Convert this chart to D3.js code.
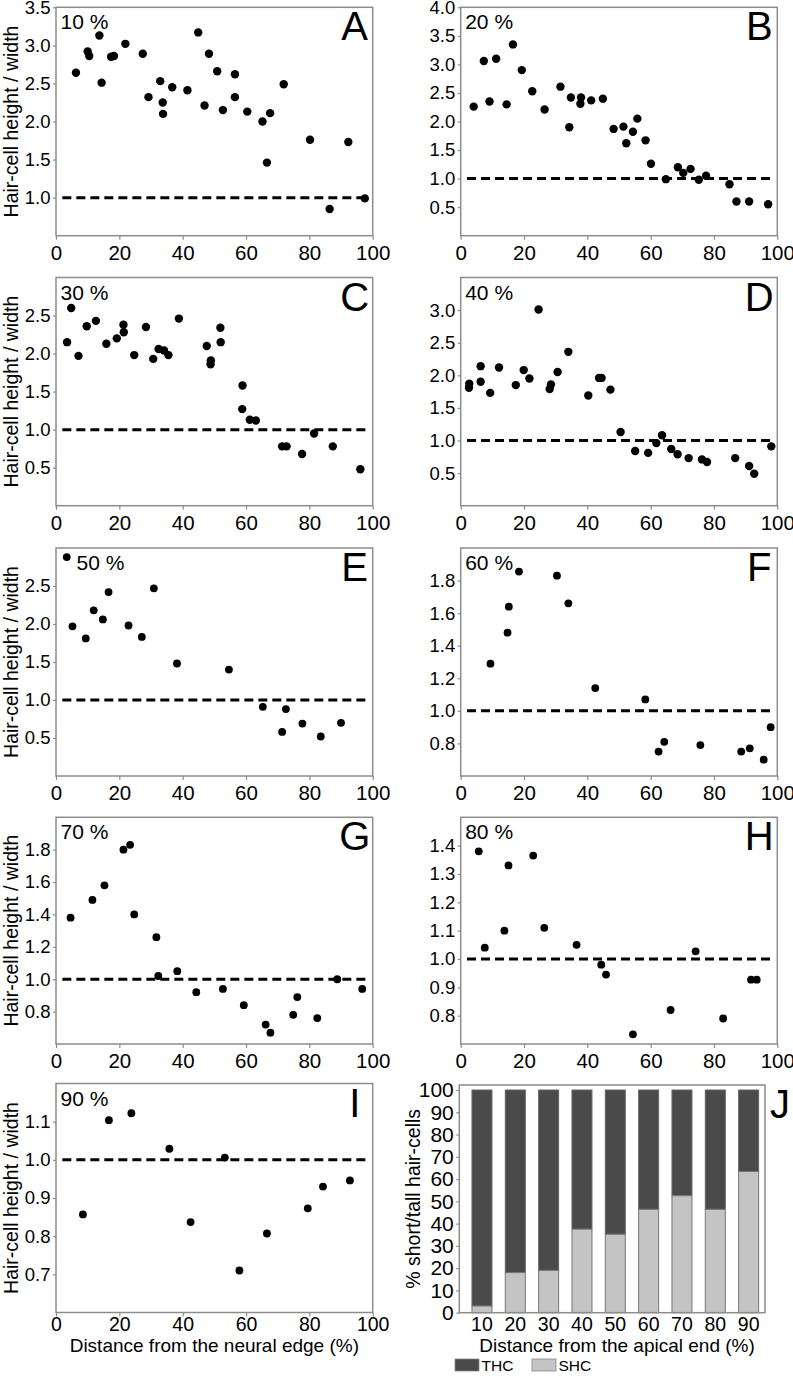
<!DOCTYPE html>
<html><head><meta charset="utf-8">
<script src="https://cdn.jsdelivr.net/npm/d3@7"></script>
<style>body{margin:0;background:#fff} svg{display:block} text{font-family:"Liberation Sans",Arial,sans-serif;fill:#000}</style>
</head><body>
<svg id="c" width="793" height="1379"></svg>
<script>
// ---------------- DATA ----------------
const xTickValues = [0, 20, 40, 60, 80, 100];

const distA  = [6.3,10.0,10.5,13.7,14.4,17.4,18.3,21.9,27.4,29.2,32.9,33.7,33.8,36.7,41.5,44.9,46.9,48.3,50.9,52.7,56.5,56.5,60.4,65.2,66.6,67.6,71.9,80.2,86.4,92.3,97.5];
const ratioA = [2.64,2.92,2.86,3.13,2.51,2.85,2.86,3.02,2.89,2.32,2.53,2.25,2.10,2.45,2.41,3.17,2.21,2.89,2.66,2.15,2.62,2.32,2.13,2.00,1.46,2.11,2.49,1.76,0.85,1.73,0.99];
const yTicksA = [1.0,1.5,2.0,2.5,3.0,3.5];

const distB  = [4.1,7.3,9.1,11.2,14.5,16.5,19.3,22.6,26.5,31.5,34.3,34.8,38.0,37.8,41.2,44.9,48.3,51.4,52.3,54.4,55.8,58.4,60.1,64.8,68.6,70.3,72.6,75.2,77.5,84.9,87.1,91.1,97.1];
const ratioB = [2.26,3.06,2.35,3.10,2.30,3.35,2.90,2.53,2.21,2.61,1.90,2.42,2.42,2.31,2.37,2.40,1.87,1.91,1.62,1.82,2.05,1.67,1.26,0.99,1.20,1.10,1.17,0.98,1.05,0.90,0.60,0.60,0.55];
const yTicksB = [0.5,1.0,1.5,2.0,2.5,3.0,3.5,4.0];

const distC  = [3.5,4.8,7.1,9.7,12.6,15.9,19.2,21.3,21.4,24.7,28.4,30.7,32.4,34.1,35.5,38.8,47.6,48.9,48.8,51.9,52.0,58.9,58.8,61.2,63.1,71.4,72.8,77.7,81.5,87.4,96.1];
const ratioC = [2.15,2.60,1.97,2.36,2.43,2.13,2.20,2.38,2.28,1.98,2.35,1.93,2.06,2.04,1.98,2.46,2.10,1.91,1.86,2.34,2.15,1.58,1.27,1.13,1.12,0.78,0.78,0.68,0.95,0.78,0.48];
const yTicksC = [0.5,1.0,1.5,2.0,2.5];

const distD  = [2.7,2.6,6.3,6.3,9.3,12.1,17.4,19.9,21.7,24.6,28.1,28.5,30.6,34.0,40.3,43.7,44.5,47.3,50.5,55.1,59.2,61.8,63.6,66.5,68.5,72.0,76.2,77.8,86.7,91.1,92.7,98.1];
const ratioD = [1.87,1.81,2.14,1.90,1.73,2.12,1.85,2.08,1.95,3.01,1.79,1.86,2.05,2.36,1.69,1.96,1.96,1.78,1.13,0.84,0.81,0.96,1.08,0.87,0.79,0.73,0.71,0.67,0.73,0.61,0.49,0.91];
const yTicksD = [0.5,1.0,1.5,2.0,2.5,3.0];

const distE  = [3.4,5.2,9.4,11.9,14.8,16.6,22.9,27.1,30.9,38.2,54.6,65.3,71.4,72.6,77.8,83.6,90.0];
const ratioE = [2.88,1.97,1.81,2.18,2.06,2.42,1.98,1.83,2.47,1.48,1.40,0.91,0.58,0.88,0.69,0.52,0.70];
const yTicksE = [0.5,1.0,1.5,2.0,2.5];

const distF  = [9.4,14.8,15.2,18.4,30.4,34.0,42.5,58.3,62.5,64.3,75.7,88.6,91.3,95.7,97.9];
const ratioF = [1.29,1.48,1.64,1.855,1.83,1.66,1.14,1.07,0.75,0.81,0.79,0.75,0.77,0.70,0.90];
const yTicksF = [0.8,1.0,1.2,1.4,1.6,1.8];

const distG  = [4.6,11.5,15.3,21.3,23.4,24.7,31.7,32.3,38.3,44.3,52.7,59.3,66.2,67.7,74.9,76.2,82.5,88.8,96.7];
const ratioG = [1.38,1.49,1.58,1.80,1.83,1.40,1.26,1.02,1.05,0.92,0.94,0.84,0.72,0.67,0.78,0.89,0.76,1.00,0.94];
const yTicksG = [0.8,1.0,1.2,1.4,1.6,1.8];

const distH  = [5.7,7.6,13.8,15.1,22.9,26.4,36.6,44.4,45.9,54.4,66.3,74.2,82.9,91.7,93.5];
const ratioH = [1.38,1.04,1.10,1.33,1.365,1.11,1.05,0.98,0.945,0.734,0.82,1.027,0.79,0.927,0.927];
const yTicksH = [0.8,0.9,1.0,1.1,1.2,1.3,1.4];

const distI  = [8.5,16.7,23.8,35.8,42.5,53.3,57.9,66.6,79.5,84.3,92.8];
const ratioI = [0.857,1.104,1.122,1.029,0.837,1.006,0.71,0.807,0.873,0.93,0.946];
const yTicksI = [0.7,0.8,0.9,1.0,1.1];

const apicalPositions = ["10","20","30","40","50","60","70","80","90"];
const shcPercent = [3,18,19,37.5,35.2,46.4,52.5,46.4,63.4];
const thcPercent = [97,82,81,62.5,64.8,53.6,47.5,53.6,36.6];
const yTicksJ = [0,10,20,30,40,50,60,70,80,90,100];

const panelLabels = ["10 %","20 %","30 %","40 %","50 %","60 %","70 %","80 %","90 %"];
const panelLetters = ["A","B","C","D","E","F","G","H","I","J"];

// ---------------- LAYOUT ----------------
const svg = d3.select("#c");
const colX = [[56,372.7],[460.7,777.3]];
const rowY = [[7.3,235.7],[277.5,505.7],[548,776],[817.3,1044],[1083.5,1312.5]];
const FRAME = "#8c8c8c";

const panels = [
  {x:distA,y:ratioA,dom:[0.5,3.5],ticks:yTicksA},
  {x:distB,y:ratioB,dom:[0,4.0],ticks:yTicksB},
  {x:distC,y:ratioC,dom:[0,3.0],ticks:yTicksC},
  {x:distD,y:ratioD,dom:[0,3.5],ticks:yTicksD},
  {x:distE,y:ratioE,dom:[0,3.0],ticks:yTicksE},
  {x:distF,y:ratioF,dom:[0.6,2.0],ticks:yTicksF},
  {x:distG,y:ratioG,dom:[0.6,2.0],ticks:yTicksG},
  {x:distH,y:ratioH,dom:[0.7,1.5],ticks:yTicksH},
  {x:distI,y:ratioI,dom:[0.6,1.2],ticks:yTicksI}
];

function styleAxis(sel, fs){
  sel.select(".domain").remove();
  sel.selectAll(".tick line").attr("stroke",FRAME).attr("stroke-width",1.2);
  sel.selectAll(".tick text").attr("font-size",fs).attr("fill","#000")
     .attr("font-family","Liberation Sans, Arial, sans-serif");
}

panels.forEach((p,i)=>{
  const col = i%2, row = Math.floor(i/2);
  const [L,R] = colX[col], [T,B] = rowY[row];
  const x = d3.scaleLinear().domain([0,100]).range([L,R]);
  const y = d3.scaleLinear().domain(p.dom).range([B,T]);
  const g = svg.append("g");

  g.append("g").attr("transform",`translate(0,${B})`)
    .call(d3.axisBottom(x).tickValues(xTickValues).tickSize(4).tickSizeOuter(0).tickPadding(row===4?0.5:5.5))
    .call(s=>styleAxis(s, row===4?"19.5px":"20.5px"));
  g.append("g").attr("transform",`translate(${L},0)`)
    .call(d3.axisLeft(y).tickValues(p.ticks).tickFormat(d3.format(".1f")).tickSize(3).tickSizeOuter(0).tickPadding(2.5))
    .call(s=>styleAxis(s,"18.5px"));

  g.append("rect").attr("x",L).attr("y",T).attr("width",R-L).attr("height",B-T)
    .attr("fill","none").attr("stroke",FRAME).attr("stroke-width",1.5);

  g.append("line").attr("x1",x(2)).attr("x2",x(99)).attr("y1",y(1)).attr("y2",y(1))
    .attr("stroke","#000").attr("stroke-width",3).attr("stroke-dasharray","9,5");

  g.selectAll("circle").data(d3.zip(p.x,p.y)).join("circle")
    .attr("cx",d=>x(d[0])).attr("cy",d=>y(d[1])).attr("r", row<2?4.2:3.9).attr("fill","#000");

  g.append("text").attr("x", L + (i===4?20.5:4.5)).attr("y",T+22).attr("font-size","21px").text(panelLabels[i]);
  g.append("text").attr("x",R-18).attr("y",T+33).attr("text-anchor","middle").attr("font-size","40px").text(panelLetters[i]);

  if(col===0){
    g.append("text").attr("transform",`translate(18,${(T+B)/2}) rotate(-90)`)
      .attr("text-anchor","middle").attr("font-size","19.5px").text("Hair-cell height / width");
  }
  if(row===4){
    g.append("text").attr("x",(L+R)/2).attr("y",1352).attr("text-anchor","middle")
      .attr("font-size","19px").text("Distance from the neural edge (%)");
  }
});

// ---------------- PANEL J ----------------
{
  const L=459.3, R=765, T=1085, B=1312.7;
  const x = d3.scaleBand().domain(apicalPositions).range([465.3,765.3]).paddingInner(0.4).paddingOuter(0.2);
  const y = d3.scaleLinear().domain([0,100]).range([B,1090]);
  const g = svg.append("g");
  g.append("g").attr("transform",`translate(0,${B})`)
    .call(d3.axisBottom(x).tickSize(0).tickPadding(4))
    .call(s=>styleAxis(s,"19.5px"));
  g.append("g").attr("transform",`translate(${L},0)`)
    .call(d3.axisLeft(y).tickValues(yTicksJ).tickSize(3).tickPadding(2.5))
    .call(s=>styleAxis(s,"21px"));
  const rows = apicalPositions.map((c,k)=>({c, shc:shcPercent[k], thc:thcPercent[k]}));
  g.selectAll("rect.thc").data(rows).join("rect").attr("class","thc")
    .attr("x",d=>x(d.c)).attr("width",x.bandwidth())
    .attr("y",d=>y(d.shc+d.thc)).attr("height",d=>y(d.shc)-y(d.shc+d.thc))
    .attr("fill","#4a4a4a").attr("stroke","#666").attr("stroke-width",1);
  g.selectAll("rect.shc").data(rows).join("rect").attr("class","shc")
    .attr("x",d=>x(d.c)).attr("width",x.bandwidth())
    .attr("y",d=>y(d.shc)).attr("height",d=>y(0)-y(d.shc))
    .attr("fill","#c4c4c4").attr("stroke","#777").attr("stroke-width",1);
  g.append("rect").attr("x",L).attr("y",T).attr("width",R-L).attr("height",B-T)
    .attr("fill","none").attr("stroke",FRAME).attr("stroke-width",1.5);
  g.append("text").attr("x",780).attr("y",T+33).attr("text-anchor","middle").attr("font-size","40px").text(panelLetters[9]);
  g.append("text").attr("transform",`translate(420,${(T+B)/2}) rotate(-90)`)
    .attr("text-anchor","middle").attr("font-size","19.5px").text("% short/tall hair-cells");
  g.append("text").attr("x",617).attr("y",1352).attr("text-anchor","middle")
    .attr("font-size","19px").text("Distance from the apical end (%)");

  // legend
  const legend = [{name:"THC",color:"#4a4a4a",x:455},{name:"SHC",color:"#c4c4c4",x:532}];
  const lg = svg.append("g");
  lg.selectAll("rect").data(legend).join("rect")
    .attr("x",d=>d.x).attr("y",1359).attr("width",24).attr("height",12)
    .attr("fill",d=>d.color).attr("stroke","#888").attr("stroke-width",0.8);
  lg.selectAll("text").data(legend).join("text")
    .attr("x",d=>d.x+26.5).attr("y",1371).attr("font-size","15.5px").text(d=>d.name);
}
</script>
</body></html>
